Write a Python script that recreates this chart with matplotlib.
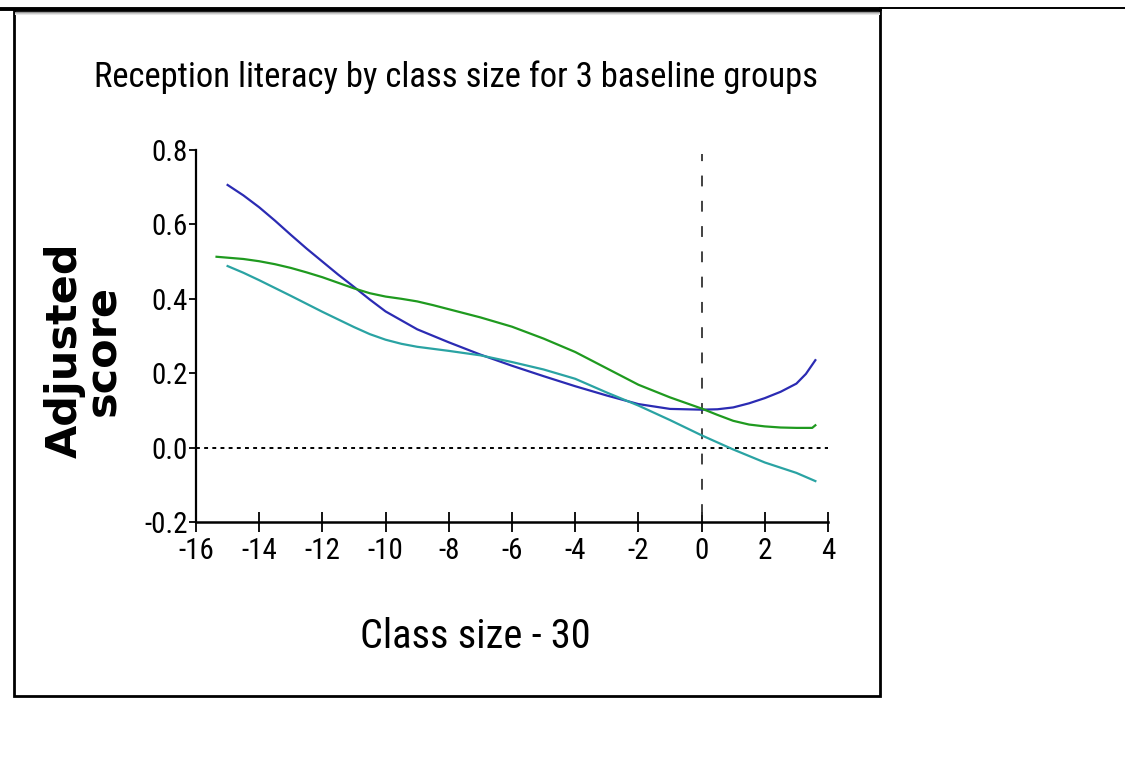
import os
import matplotlib
matplotlib.use("Agg")
import matplotlib.pyplot as plt
from matplotlib.patches import Rectangle
from matplotlib.lines import Line2D
from matplotlib import font_manager
from matplotlib.font_manager import FontProperties

# ---- data ----
blue_x = [-15.0, -14.5, -14.0, -13.5, -13.0, -12.5, -12.0, -11.5, -11.0, -10.5, -10.0, -9.0, -8.0, -7.0, -6.0, -5.0, -4.0, -3.0, -2.0, -1.0, 0.0, 0.5, 1.0, 1.5, 2.0, 2.5, 3.0, 3.3, 3.6]
blue_y = [0.706, 0.678, 0.646, 0.610, 0.572, 0.535, 0.500, 0.465, 0.432, 0.398, 0.366, 0.318, 0.283, 0.250, 0.220, 0.192, 0.165, 0.140, 0.117, 0.104, 0.102, 0.103, 0.108, 0.119, 0.133, 0.150, 0.172, 0.198, 0.235]

green_x = [-15.35, -14.5, -14.0, -13.5, -13.0, -12.5, -12.0, -11.5, -11.0, -10.5, -10.0, -9.5, -9.0, -8.5, -8.0, -7.0, -6.0, -5.0, -4.0, -3.0, -2.0, -1.0, 0.0, 0.5, 1.0, 1.5, 2.0, 2.5, 3.0, 3.5, 3.6]
green_y = [0.513, 0.507, 0.501, 0.493, 0.483, 0.471, 0.458, 0.443, 0.428, 0.415, 0.406, 0.400, 0.393, 0.383, 0.372, 0.350, 0.325, 0.293, 0.257, 0.213, 0.169, 0.135, 0.105, 0.088, 0.072, 0.062, 0.057, 0.054, 0.053, 0.053, 0.060]

teal_x = [-15.0, -14.5, -14.0, -13.0, -12.0, -11.0, -10.5, -10.0, -9.5, -9.0, -8.0, -7.0, -6.0, -5.0, -4.0, -3.0, -2.0, -1.0, 0.0, 1.0, 2.0, 3.0, 3.6]
teal_y = [0.488, 0.470, 0.450, 0.408, 0.365, 0.324, 0.305, 0.290, 0.279, 0.271, 0.260, 0.248, 0.230, 0.210, 0.185, 0.148, 0.113, 0.074, 0.033, -0.005, -0.040, -0.068, -0.090]

x_ticks = [-16, -14, -12, -10, -8, -6, -4, -2, 0, 2, 4]
y_ticks = [-0.2, 0.0, 0.2, 0.4, 0.6, 0.8]
y_tick_labels = ["-0.2", "0.0", "0.2", "0.4", "0.6", "0.8"]

title_text = "Reception literacy by class size for 3 baseline groups"
x_label = "Class size - 30"
y_label = "Adjusted\nscore"

# ---- narrow font search ----
prefs = ["liberationsansnarrow-regular", "notosans-extracondensed.", "notosans-condensed.",
         "roboto_condensed-regular", "robotocondensed-regular", "opensans_condensed-regular",
         "opensans-condensedregular", "dejavusanscondensed.", "notosans-semicondensed."]
files = [f.fname for f in font_manager.fontManager.ttflist]
narrow_path = None
for p in prefs:
    for fn in files:
        if os.path.basename(fn).lower().startswith(p):
            narrow_path = fn
            break
    if narrow_path:
        break
if narrow_path is None:
    for fn in files:
        b = os.path.basename(fn).lower()
        if ("condensed" in b or "narrow" in b) and "italic" not in b and "bold" not in b \
                and "light" not in b and "thin" not in b and "black" not in b and "medium" not in b:
            narrow_path = fn
            break

def nfp(size):
    if narrow_path:
        return FontProperties(fname=narrow_path, size=size)
    return FontProperties(family="Liberation Sans", size=size)

W, H = 1125, 760
fig = plt.figure(figsize=(W / 100, H / 100), dpi=100)
fig.patch.set_facecolor("white")

def px(x, y):
    return x / W, 1 - y / H

# frame
x0, y0 = px(14, 696)
x1, y1 = px(880, 10)
fig.patches.append(Rectangle((x0, y0), x1 - x0, y1 - y0, transform=fig.transFigure,
                             fill=False, edgecolor="black", linewidth=2.0))
for i, c in enumerate(["#9a9a9a", "#c8c8c8", "#e6e6e6"]):
    yy = px(0, 11.5 + i)[1]
    fig.lines.append(Line2D([px(15, 0)[0], px(879, 0)[0]], [yy, yy], transform=fig.transFigure,
                            color=c, linewidth=0.75))
fig.lines.append(Line2D([0, px(880, 0)[0]], [px(0, 8.5)[1]] * 2, transform=fig.transFigure,
                        color="black", linewidth=2.8))
fig.lines.append(Line2D([px(880, 0)[0], 1], [px(0, 7.5)[1]] * 2, transform=fig.transFigure,
                        color="black", linewidth=1.4))

# axes
ax_l, ax_b = px(196, 522)
ax_r, ax_t = px(828, 150)
ax = fig.add_axes([ax_l, ax_b, ax_r - ax_l, ax_t - ax_b])
ax.set_xlim(-16, 4)
ax.set_ylim(-0.2, 0.8)
for s in ["top", "right"]:
    ax.spines[s].set_visible(False)
ax.spines["left"].set_linewidth(1.6)
ax.spines["bottom"].set_linewidth(1.8)

ax.axhline(0, color="black", linestyle=(0, (2, 2.2)), linewidth=1.4)
ax.axvline(0, ymin=0.02, ymax=0.99, color="#333333", linestyle=(0, (6, 8)), linewidth=1.3)

ax.plot(blue_x, blue_y, color="#2b2bb3", linewidth=1.6)
ax.plot(green_x, green_y, color="#1f9a1f", linewidth=1.6)
ax.plot(teal_x, teal_y, color="#2aa3a3", linewidth=1.6)

ax.set_xticks(x_ticks)
ax.set_xticklabels([str(t) for t in x_ticks])
ax.set_yticks(y_ticks)
ax.set_yticklabels(y_tick_labels)
ax.tick_params(axis="x", direction="inout", length=14, width=1.3, pad=4)
ax.tick_params(axis="y", direction="out", length=5, width=1.3, pad=1)

t_title = fig.text(*px(456, 77), title_text, ha="center", va="center", fontproperties=nfp(28))
t_xl = fig.text(*px(475, 636), x_label, ha="center", va="center", fontproperties=nfp(36))
fig.text(*px(84, 350), y_label, ha="center", va="center", rotation=90, fontsize=31,
         fontweight="bold", family=["DejaVu Sans"], linespacing=0.92, multialignment="center")

tick_size = 25
for lab in ax.get_xticklabels() + ax.get_yticklabels():
    lab.set_fontproperties(nfp(tick_size))

# fit widths (compromise between height-based and width-based size)
fig.canvas.draw()
r = fig.canvas.get_renderer()
def fit(txt, target_w, size, k=0.65):
    w = txt.get_window_extent(r).width
    s_w = size * target_w / w
    return (size ** (1 - k)) * (s_w ** k) if s_w < size else size
t_title.set_fontproperties(nfp(fit(t_title, 678, 28)))
t_xl.set_fontproperties(nfp(fit(t_xl, 206, 36)))
lab16 = ax.get_xticklabels()[0]
ts = fit(lab16, 30, tick_size, 0.5)
for lab in ax.get_xticklabels() + ax.get_yticklabels():
    lab.set_fontproperties(nfp(ts))

fig.savefig("out.png", dpi=100, facecolor="white")
